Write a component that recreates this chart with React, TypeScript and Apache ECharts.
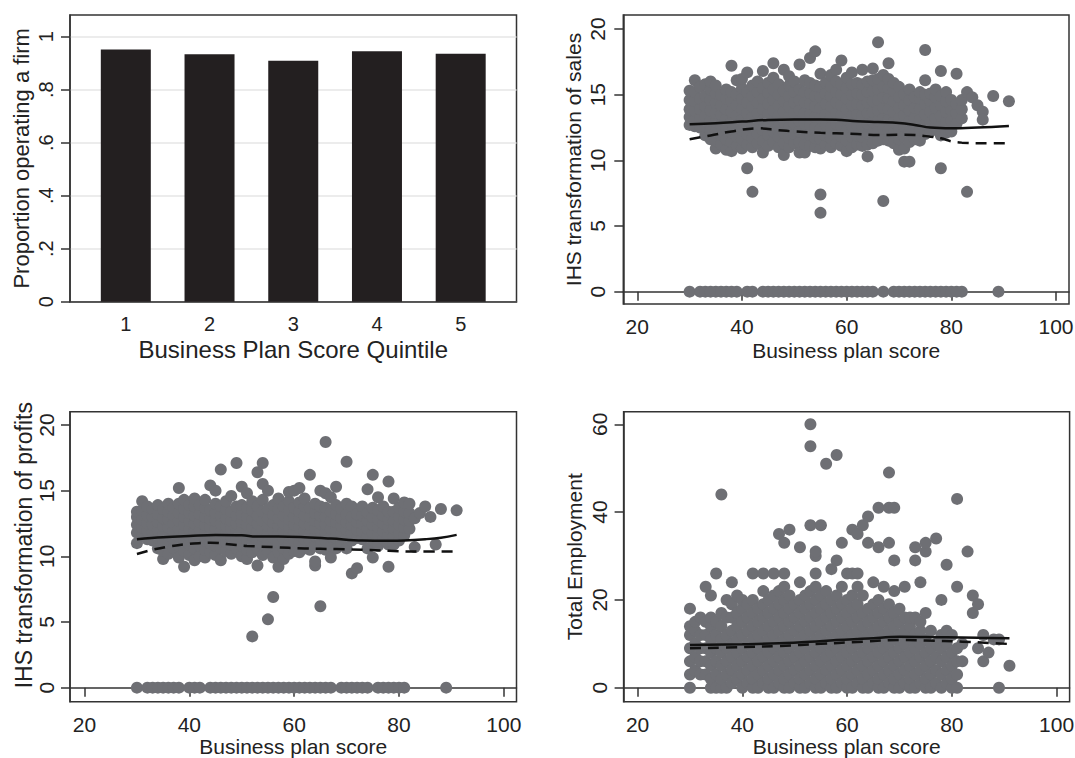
import React, { useEffect, useRef } from "react";
import * as echarts from "echarts";

// ---------- Panel 1: bar chart ----------
const quintiles: number[] = [1, 2, 3, 4, 5];
const proportionOperating: number[] = [0.952, 0.934, 0.909, 0.945, 0.936];
const proportionTicks: number[] = [0, 0.2, 0.4, 0.6, 0.8, 1];

const scoreTicks: number[] = [20, 40, 60, 80, 100];
const salesTicks: number[] = [0, 5, 10, 15, 20];
const profitTicks: number[] = [0, 5, 10, 15, 20];
const employTicks: number[] = [0, 20, 40, 60];

// ---------- Panel 2: IHS sales (columns: [score, y1, y2, ...]) ----------
const salesCols: number[][] = [
  [30, 12.7, 13.3, 13.9, 14.6, 15.3],
  [31, 12.6, 13.1, 13.8, 14.5, 15.2, 16.1],
  [32, 12.5, 13.2, 13.9, 14.7, 15.6],
  [33, 11.9, 12.6, 13.4, 14.1, 14.9, 15.8],
  [34, 11.6, 12.3, 13.0, 13.8, 14.6, 15.4, 16.0],
  [35, 10.9, 11.5, 12.2, 12.9, 13.6, 14.4, 15.1, 15.7],
  [36, 11.2, 11.9, 12.7, 13.5, 14.2, 15.0],
  [37, 10.8, 11.6, 12.4, 13.2, 13.9, 14.7, 15.4],
  [38, 10.7, 11.4, 12.1, 12.9, 13.7, 14.5, 15.2, 17.2],
  [39, 11.1, 11.8, 12.6, 13.4, 14.2, 15.0, 16.1],
  [40, 10.9, 11.6, 12.3, 13.1, 13.9, 14.7, 15.5, 16.2],
  [41, 9.4, 11.2, 12.0, 12.8, 13.6, 14.4, 15.2, 16.7],
  [42, 7.6, 11.0, 11.7, 12.5, 13.3, 14.1, 14.9, 15.7],
  [43, 11.3, 12.0, 12.8, 13.6, 14.4, 15.2, 16.0],
  [44, 10.6, 11.5, 12.3, 13.1, 13.9, 14.7, 15.5, 16.8],
  [45, 11.1, 11.9, 12.7, 13.5, 14.3, 15.1, 15.9],
  [46, 11.4, 12.2, 13.0, 13.8, 14.6, 15.4, 16.3, 17.4],
  [47, 11.0, 11.8, 12.6, 13.4, 14.2, 15.0, 15.8],
  [48, 10.4, 11.3, 12.1, 12.9, 13.7, 14.5, 15.3, 16.9],
  [49, 11.0, 11.7, 12.5, 13.3, 14.1, 14.9, 15.7, 16.4],
  [50, 11.3, 12.0, 12.8, 13.6, 14.4, 15.2, 16.0],
  [51, 10.6, 11.4, 12.2, 13.0, 13.8, 14.6, 15.4, 17.3],
  [52, 10.6, 11.2, 12.0, 12.8, 13.6, 14.4, 15.2, 16.1],
  [53, 11.1, 11.9, 12.7, 13.5, 14.3, 15.1, 15.9, 17.8],
  [54, 11.0, 11.7, 12.5, 13.3, 14.1, 14.9, 15.7, 18.3],
  [55, 6.0, 7.4, 10.9, 11.6, 12.4, 13.2, 14.0, 14.8, 15.6, 16.6],
  [56, 11.2, 11.9, 12.7, 13.5, 14.3, 15.1, 15.9],
  [57, 11.0, 11.7, 12.5, 13.3, 14.1, 14.9, 15.6, 16.5],
  [58, 11.3, 12.0, 12.8, 13.6, 14.4, 15.2, 16.0, 16.9],
  [59, 11.1, 11.8, 12.6, 13.4, 14.2, 15.0, 15.8, 17.6],
  [60, 10.7, 11.5, 12.3, 13.1, 13.9, 14.7, 15.5, 16.3],
  [61, 11.0, 11.8, 12.6, 13.4, 14.2, 15.0, 15.8, 16.7],
  [62, 11.2, 11.9, 12.7, 13.5, 14.3, 15.1, 15.9],
  [63, 11.1, 11.8, 12.6, 13.4, 14.2, 15.0, 15.8, 16.9],
  [64, 10.3, 11.2, 12.0, 12.8, 13.6, 14.4, 15.2, 16.0],
  [65, 11.3, 12.1, 12.9, 13.7, 14.5, 15.3, 16.1, 17.0],
  [66, 11.5, 12.2, 13.0, 13.8, 14.6, 15.4, 16.2, 19.0],
  [67, 6.9, 11.6, 12.4, 13.2, 14.0, 14.8, 15.6, 16.5],
  [68, 11.5, 12.3, 13.1, 13.9, 14.7, 15.5, 16.2, 17.4],
  [69, 11.3, 12.1, 12.9, 13.7, 14.5, 15.3, 15.9],
  [70, 10.8, 11.6, 12.4, 13.2, 14.0, 14.8, 15.6],
  [71, 9.9, 10.9, 11.8, 12.6, 13.4, 14.2, 15.0],
  [72, 9.9, 11.4, 12.2, 13.0, 13.8, 14.6, 15.4],
  [73, 11.6, 12.4, 13.2, 14.0, 14.8],
  [74, 11.5, 12.3, 13.1, 13.9, 14.7, 15.2],
  [75, 12.0, 12.7, 13.5, 14.3, 15.0, 16.1, 18.4],
  [76, 12.2, 12.9, 13.7, 14.5, 15.1],
  [77, 12.5, 13.2, 14.0, 14.8, 15.4],
  [78, 9.4, 11.9, 12.6, 13.4, 14.2, 14.9, 16.8],
  [79, 12.1, 12.9, 13.7, 14.5, 15.2],
  [80, 12.2, 13.0, 13.8, 14.6],
  [81, 12.8, 13.6, 14.3, 16.6],
  [82, 13.2, 13.9, 14.6],
  [83, 7.6, 15.2],
  [84, 14.8],
  [85, 14.2],
  [86, 13.7, 13.1],
  [88, 14.9],
  [91, 14.5],
];
const salesZeroScores: number[] = [
  30, 32, 33, 34, 35, 36, 37, 38, 39, 41, 42, 44, 45, 46, 47, 48, 49, 50, 51,
  52, 53, 54, 55, 56, 57, 58, 59, 60, 61, 62, 63, 64, 65, 67, 69, 70, 71, 72,
  73, 74, 75, 76, 77, 78, 79, 80, 81, 82, 89,
];
const salesLowess: number[][] = [
  [30, 12.75], [35, 12.82], [40, 12.95], [45, 13.08], [50, 13.12], [55, 13.12],
  [58, 13.1], [62, 12.98], [66, 12.92], [70, 12.85], [73, 12.7], [76, 12.5],
  [80, 12.44], [85, 12.5], [91, 12.62],
];
const salesLowessDashed: number[][] = [
  [30, 11.6], [34, 11.9], [38, 12.2], [43, 12.44], [47, 12.3], [50, 12.2],
  [55, 12.1], [58, 12.06], [62, 12.0], [66, 11.93], [70, 11.95], [73, 11.93],
  [76, 11.8], [78, 11.68], [80, 11.45], [82, 11.35], [86, 11.3], [91, 11.3],
];

// ---------- Panel 3: IHS profits ----------
const profitCols: number[][] = [
  [30, 11.0, 11.8, 12.4, 13.0, 13.4],
  [31, 11.6, 12.2, 12.8, 13.5, 14.2],
  [32, 11.3, 11.9, 12.5, 13.1, 13.8],
  [33, 11.2, 11.8, 12.4, 13.0, 13.6],
  [34, 10.6, 11.4, 12.0, 12.6, 13.2, 13.9],
  [35, 9.8, 10.4, 11.1, 11.7, 12.3, 12.9, 13.6],
  [36, 10.2, 11.0, 11.6, 12.2, 12.8, 13.4, 14.0],
  [37, 10.6, 11.3, 11.9, 12.5, 13.1, 13.7],
  [38, 9.9, 10.8, 11.5, 12.1, 12.7, 13.3, 14.0, 15.2],
  [39, 9.2, 10.4, 11.2, 11.8, 12.4, 13.0, 13.6, 14.3],
  [40, 10.1, 10.9, 11.5, 12.1, 12.7, 13.3, 13.9],
  [41, 9.7, 10.6, 11.3, 11.9, 12.5, 13.1, 13.8, 14.4],
  [42, 10.0, 10.8, 11.4, 12.0, 12.6, 13.2, 13.9],
  [43, 9.9, 10.5, 11.2, 11.8, 12.4, 13.0, 13.7, 14.3],
  [44, 10.3, 11.0, 11.6, 12.2, 12.8, 13.5, 15.4],
  [45, 10.1, 10.8, 11.5, 12.1, 12.7, 13.3, 14.0, 15.0],
  [46, 9.7, 10.6, 11.3, 11.9, 12.5, 13.1, 13.8, 16.6],
  [47, 10.4, 11.1, 11.7, 12.3, 12.9, 13.6, 14.2],
  [48, 10.2, 10.9, 11.5, 12.1, 12.7, 13.4, 14.6],
  [49, 10.6, 11.3, 11.9, 12.5, 13.1, 13.8, 17.1],
  [50, 10.0, 10.8, 11.4, 12.0, 12.6, 13.2, 13.9, 15.3],
  [51, 9.8, 10.5, 11.2, 11.8, 12.4, 13.0, 13.7, 14.8],
  [52, 3.9, 10.3, 11.0, 11.6, 12.2, 12.8, 13.5, 14.2],
  [53, 9.3, 10.6, 11.3, 11.9, 12.5, 13.1, 13.8, 16.4],
  [54, 10.1, 10.9, 11.5, 12.1, 12.7, 13.4, 14.3, 15.5, 17.1],
  [55, 5.2, 10.4, 11.1, 11.7, 12.3, 12.9, 13.6, 15.0],
  [56, 6.9, 9.9, 10.8, 11.4, 12.0, 12.6, 13.2, 13.9],
  [57, 9.2, 10.3, 11.1, 11.7, 12.3, 12.9, 13.6, 14.4],
  [58, 9.8, 10.6, 11.3, 11.9, 12.5, 13.1, 13.8],
  [59, 10.2, 11.0, 11.6, 12.2, 12.8, 13.5, 14.2, 14.9],
  [60, 10.4, 11.2, 11.8, 12.4, 13.0, 13.7, 15.0],
  [61, 10.3, 11.0, 11.6, 12.2, 12.8, 13.4, 14.1, 15.2],
  [62, 10.6, 11.3, 11.9, 12.5, 13.1, 13.8, 14.4],
  [63, 10.5, 11.2, 11.8, 12.4, 13.0, 13.7, 16.2],
  [64, 9.3, 9.6, 10.8, 11.5, 12.1, 12.7, 13.3, 14.0],
  [65, 6.2, 10.6, 11.3, 11.9, 12.5, 13.1, 13.8, 15.0],
  [66, 10.5, 11.2, 11.8, 12.4, 13.0, 13.7, 14.8, 18.7],
  [67, 9.9, 10.8, 11.5, 12.1, 12.7, 13.4, 14.5],
  [68, 10.6, 11.4, 12.0, 12.6, 13.2, 13.9, 15.3],
  [69, 11.0, 11.7, 12.3, 12.9, 13.6],
  [70, 10.6, 11.4, 12.0, 12.6, 13.2, 14.0, 17.2],
  [71, 8.7, 11.2, 11.8, 12.4, 13.0, 13.8],
  [72, 9.1, 11.4, 12.0, 12.6, 13.2],
  [73, 11.3, 11.9, 12.5, 13.1, 13.8],
  [74, 10.6, 11.5, 12.1, 12.7, 13.3, 15.1],
  [75, 9.9, 11.2, 11.8, 12.4, 13.0, 13.7, 16.2],
  [76, 10.8, 11.6, 12.2, 12.8, 13.5, 14.5],
  [77, 11.3, 11.9, 12.5, 13.1, 13.8],
  [78, 9.2, 10.9, 11.6, 12.2, 12.8, 13.4, 15.7],
  [79, 10.9, 11.5, 12.1, 12.7, 13.4, 14.4],
  [80, 11.2, 11.8, 12.4, 13.0, 13.7],
  [81, 11.6, 12.2, 12.8, 13.4, 14.1],
  [82, 12.1, 12.7, 13.3, 14.0],
  [83, 10.7, 12.9],
  [84, 13.3],
  [85, 13.8],
  [86, 13.0],
  [87, 10.9],
  [88, 13.6],
  [91, 13.5],
];
const profitZeroScores: number[] = [
  30, 32, 33, 34, 35, 36, 37, 38, 40, 41, 42, 44, 45, 46, 47, 48, 49, 50, 51,
  52, 53, 54, 55, 56, 57, 58, 59, 60, 61, 62, 63, 64, 65, 66, 67, 69, 70, 71,
  72, 73, 74, 76, 77, 78, 79, 80, 81, 89,
];
const profitLowess: number[][] = [
  [30, 11.3], [35, 11.45], [40, 11.55], [45, 11.63], [50, 11.6], [53, 11.5],
  [57, 11.5], [62, 11.45], [67, 11.35], [73, 11.2], [78, 11.18], [81, 11.2],
  [85, 11.3], [88, 11.42], [91, 11.63],
];
const profitLowessDashed: number[][] = [
  [30, 10.18], [33, 10.5], [36, 10.74], [40, 10.95], [44, 11.04], [48, 10.9],
  [51, 10.79], [56, 10.7], [62, 10.6], [68, 10.55], [73, 10.49], [78, 10.42],
  [83, 10.36], [91, 10.36],
];

// ---------- Panel 4: total employment ----------
const employCols: number[][] = [
  [30, 0, 3, 6, 9, 12, 14, 18],
  [31, 4, 7, 10, 13, 15],
  [32, 3, 6, 9, 12, 16],
  [33, 3, 6, 9, 12, 15, 23],
  [34, 0, 2, 5, 8, 11, 14, 16, 21],
  [35, 0, 3, 6, 9, 12, 15, 26],
  [36, 0, 2, 5, 8, 11, 14, 17, 44],
  [37, 0, 3, 6, 9, 12, 16, 20],
  [38, 1, 4, 7, 10, 13, 16, 19, 24],
  [39, 2, 5, 8, 11, 14, 17, 21],
  [40, 0, 3, 6, 9, 12, 15, 18, 20],
  [41, 1, 4, 7, 10, 13, 16, 19],
  [42, 0, 2, 5, 8, 11, 14, 17, 20, 26],
  [43, 0, 3, 6, 9, 12, 15, 18],
  [44, 1, 4, 7, 10, 13, 16, 19, 22, 26],
  [45, 0, 2, 5, 8, 11, 14, 17, 20],
  [46, 0, 3, 6, 9, 12, 15, 18, 21, 26],
  [47, 1, 4, 7, 10, 13, 16, 19, 22, 35],
  [48, 0, 2, 5, 8, 11, 14, 17, 20, 23, 26, 33],
  [49, 0, 3, 6, 9, 12, 15, 18, 21, 36],
  [50, 1, 4, 7, 10, 13, 16, 19],
  [51, 0, 2, 5, 8, 11, 14, 17, 20, 24, 32],
  [52, 0, 3, 6, 9, 12, 15, 18, 21],
  [53, 1, 4, 7, 10, 13, 16, 19, 22, 37, 55, 60],
  [54, 0, 2, 5, 8, 11, 14, 17, 20, 23, 26, 30, 31],
  [55, 0, 3, 6, 9, 12, 15, 18, 21, 37],
  [56, 1, 4, 7, 10, 13, 16, 19, 22, 51],
  [57, 0, 2, 5, 8, 11, 14, 17, 20, 27],
  [58, 0, 3, 6, 9, 12, 15, 18, 21, 29, 53],
  [59, 1, 4, 7, 10, 13, 16, 19, 23, 33],
  [60, 0, 2, 5, 8, 11, 14, 17, 20, 26],
  [61, 0, 3, 6, 9, 12, 15, 18, 21, 26, 36],
  [62, 1, 4, 7, 10, 13, 16, 19, 23, 26, 35],
  [63, 0, 2, 5, 8, 11, 14, 17, 21, 37],
  [64, 0, 3, 6, 9, 12, 15, 18, 33, 39],
  [65, 1, 4, 7, 10, 13, 16, 19, 24],
  [66, 0, 2, 5, 8, 11, 14, 17, 20, 32, 41],
  [67, 0, 3, 6, 9, 12, 15, 18, 23],
  [68, 1, 4, 7, 10, 13, 16, 19, 33, 41, 49],
  [69, 0, 2, 5, 8, 11, 14, 17, 22, 29, 41],
  [70, 0, 3, 6, 9, 12, 15, 18],
  [71, 1, 4, 7, 10, 13, 16, 23],
  [72, 0, 2, 5, 8, 11, 14, 16],
  [73, 0, 3, 6, 9, 12, 16, 29, 32],
  [74, 1, 4, 7, 10, 13, 15, 24],
  [75, 0, 2, 5, 8, 11, 17, 31, 33],
  [76, 0, 3, 6, 9, 13],
  [77, 1, 4, 7, 10, 34],
  [78, 0, 3, 6, 9, 12, 20],
  [79, 1, 4, 7, 10, 13, 28],
  [80, 0, 2, 5, 8, 12],
  [81, 0, 3, 6, 9, 23, 43],
  [82, 6, 10],
  [83, 31],
  [84, 17, 21],
  [85, 9, 19],
  [86, 6, 12],
  [87, 8],
  [88, 11],
  [89, 0, 11],
  [91, 5],
];
const employLowess: number[][] = [
  [30, 9.73], [40, 9.9], [47, 10.1], [53, 10.45], [58, 10.87], [64, 11.2],
  [70, 11.6], [75, 11.55], [79, 11.47], [85, 11.35], [91, 11.25],
];
const employLowessDashed: number[][] = [
  [30, 8.97], [40, 9.25], [47, 9.5], [55, 10.0], [63, 10.48], [70, 10.87],
  [75, 10.75], [82, 10.48], [87, 10.2], [91, 9.95],
];

// ---------- helpers ----------
const colsToPoints = (cols: number[][]): number[][] =>
  cols.flatMap(([x, ...ys]) => ys.map((y) => [x, y]));
const zerosToPoints = (xs: number[]): number[][] => xs.map((x) => [x, 0]);

const FONT = "'Liberation Sans', Arial, Helvetica, sans-serif";
const TEXT = "#222";
const AXIS = "#333";
const DOT = "#6e6f74";

export default function App() {
  const ref = useRef<HTMLDivElement>(null);

  useEffect(() => {
    if (!ref.current) return;
    const chart = echarts.init(ref.current, undefined, { renderer: "svg" });

    const gridBase = {
      show: true,
      borderColor: AXIS,
      borderWidth: 1.5,
      backgroundColor: "transparent",
      containLabel: false,
      outerBoundsMode: "none",
    };
    const grids = [
      { left: 70, top: 15, width: 446.5, height: 286.7 },
      { left: 623.3, top: 15, width: 445.7, height: 289 },
      { left: 70, top: 411.7, width: 446.5, height: 290 },
      { left: 623.6, top: 411.7, width: 446, height: 290 },
    ].map((g) => ({ ...gridBase, ...g }));

    const axisLine = { show: true, lineStyle: { color: AXIS, width: 1.5 } };

    const scoreAxis = (gridIndex: number, min: number, max: number, nameGap: number) => ({
      type: "value",
      gridIndex,
      min,
      max,
      axisLine,
      axisTick: {
        show: true,
        customValues: scoreTicks,
        length: 9,
        lineStyle: { color: AXIS, width: 1.5 },
      },
      axisLabel: {
        customValues: scoreTicks,
        fontSize: 21,
        fontFamily: FONT,
        color: TEXT,
        margin: 12,
      },
      splitLine: { show: false },
      name: "Business plan score",
      nameLocation: "middle",
      nameGap,
      nameTextStyle: { fontSize: 21, fontFamily: FONT, color: TEXT },
    });

    const valueYAxis = (
      gridIndex: number,
      min: number,
      max: number,
      ticks: number[],
      name: string,
      nameGap: number,
      labelMargin: number,
      nameSize: number,
      namePadding: number[]
    ) => ({
      type: "value",
      gridIndex,
      min,
      max,
      axisLine,
      axisTick: {
        show: true,
        customValues: ticks,
        length: 9,
        lineStyle: { color: AXIS, width: 1.5 },
      },
      axisLabel: {
        customValues: ticks,
        rotate: 90,
        fontSize: 21,
        fontFamily: FONT,
        color: TEXT,
        margin: labelMargin,
      },
      splitLine: { show: false },
      name,
      nameLocation: "middle",
      nameRotate: 90,
      nameGap,
      nameTextStyle: {
        fontSize: nameSize,
        fontFamily: FONT,
        color: TEXT,
        padding: namePadding,
      },
    });

    const xAxes = [
      {
        type: "value",
        gridIndex: 0,
        min: 1 / 3,
        max: 17 / 3,
        axisLine,
        axisTick: { show: false },
        axisLabel: {
          customValues: quintiles,
          fontSize: 20,
          fontFamily: FONT,
          color: TEXT,
          margin: 12,
        },
        splitLine: { show: false },
        name: "Business Plan Score Quintile",
        nameLocation: "middle",
        nameGap: 36,
        nameTextStyle: { fontSize: 24, fontFamily: FONT, color: TEXT },
      },
      scoreAxis(1, 17.33, 102.48, 36),
      scoreAxis(2, 17.23, 102.42, 33),
      scoreAxis(3, 17.33, 102.48, 33),
    ];

    const yAxes = [
      {
        type: "value",
        gridIndex: 0,
        min: 0,
        max: 1.082,
        axisLine,
        axisTick: {
          show: true,
          customValues: proportionTicks,
          length: 9,
          lineStyle: { color: AXIS, width: 1.5 },
        },
        axisLabel: {
          customValues: proportionTicks,
          rotate: 90,
          fontSize: 20,
          fontFamily: FONT,
          color: TEXT,
          margin: 14,
          formatter: (v: number) =>
            v === 0 ? "0" : v === 1 ? "1" : "." + Math.round(v * 10),
        },
        splitLine: { show: true, lineStyle: { color: "#e6e6e6", width: 1.5 } },
        name: "Proportion operating a firm",
        nameLocation: "middle",
        nameRotate: 90,
        nameGap: 38,
        nameTextStyle: { fontSize: 22, fontFamily: FONT, color: TEXT },
      },
      valueYAxis(1, -0.94, 21.07, salesTicks, "IHS transformation of sales", 39, 15, 21, [0, 0, 0, 0]),
      valueYAxis(2, -1.07, 21.01, profitTicks, "IHS transformation of profits", 34, 13, 23, [0, 0, 0, 23]),
      valueYAxis(3, -3.19, 62.87, employTicks, "Total Employment", 39, 14, 21, [0, 0, 0, 0]),
    ];

    const scatter = (idx: number, data: number[][]) => ({
      type: "scatter",
      xAxisIndex: idx,
      yAxisIndex: idx,
      data,
      symbol: "circle",
      symbolSize: 12,
      itemStyle: { color: DOT, opacity: 1 },
      z: 2,
      silent: true,
    });
    const line = (idx: number, data: number[][], dashed: boolean) => ({
      type: "line",
      xAxisIndex: idx,
      yAxisIndex: idx,
      data,
      smooth: 0.4,
      symbol: "none",
      lineStyle: {
        color: "#111",
        width: 2.5,
        type: dashed ? [11, 7] : "solid",
      },
      z: 3,
      silent: true,
    });

    const option = {
      animation: false,
      backgroundColor: "#ffffff",
      textStyle: { fontFamily: FONT },
      grid: grids,
      xAxis: xAxes,
      yAxis: yAxes,
      series: [
        {
          type: "bar",
          xAxisIndex: 0,
          yAxisIndex: 0,
          data: quintiles.map((q, i) => [q, proportionOperating[i]]),
          barWidth: 50,
          itemStyle: { color: "#231f20" },
          z: 2,
          silent: true,
        },
        scatter(1, [...colsToPoints(salesCols), ...zerosToPoints(salesZeroScores)]),
        line(1, salesLowessDashed, true),
        line(1, salesLowess, false),
        scatter(2, [...colsToPoints(profitCols), ...zerosToPoints(profitZeroScores)]),
        line(2, profitLowessDashed, true),
        line(2, profitLowess, false),
        scatter(3, colsToPoints(employCols)),
        line(3, employLowessDashed, true),
        line(3, employLowess, false),
      ],
    };

    chart.setOption(option as any);
    return () => chart.dispose();
  }, []);

  return (
    <div
      ref={ref}
      style={{
        position: "fixed",
        left: 0,
        top: 0,
        width: 1075,
        height: 758,
        background: "#fff",
      }}
    />
  );
}
